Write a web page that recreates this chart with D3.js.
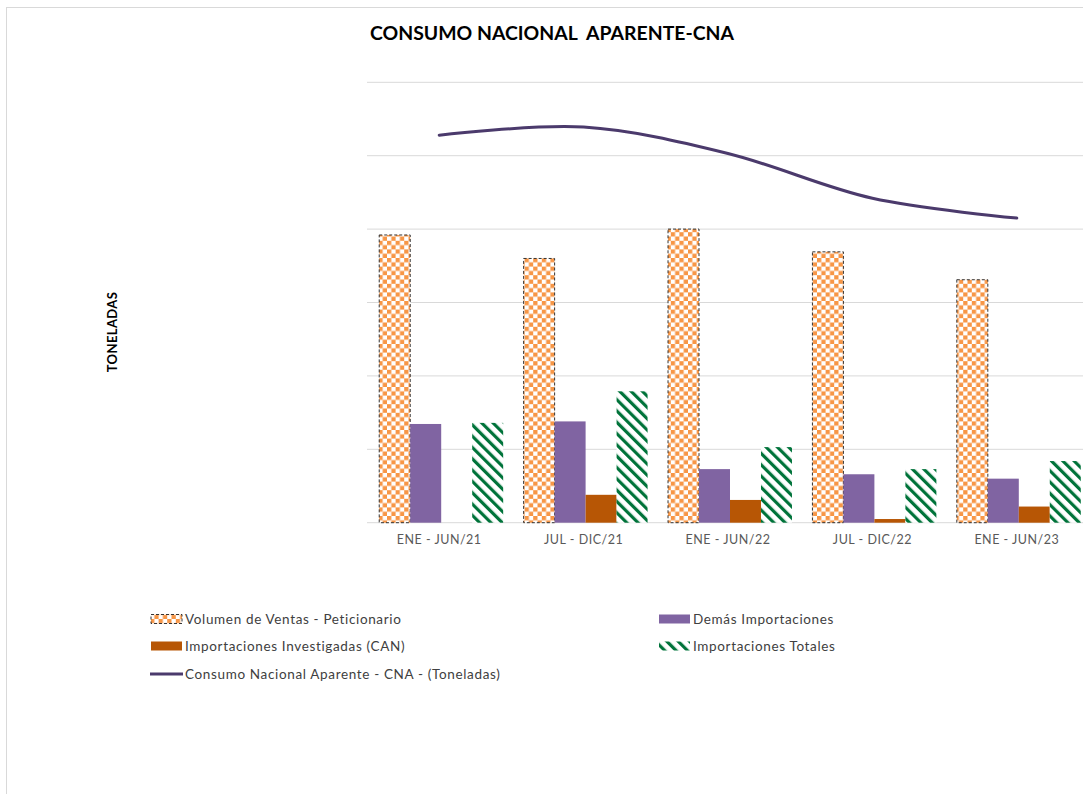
<!DOCTYPE html>
<html>
<head>
<meta charset="utf-8">
<script src="https://cdn.jsdelivr.net/npm/d3@7"></script>
<style>
  body { margin: 0; background: #fff; }
  svg { display: block; font-family: Lato, 'Open Sans', sans-serif; }
</style>
</head>
<body>
<svg id="chart" width="1083" height="794"></svg>
<script>
// periods on the x axis
const periods = ['ENE - JUN/21', 'JUL - DIC/21', 'ENE - JUN/22', 'JUL - DIC/22', 'ENE - JUN/23'];
// toneladas (no y labels in the original)
const ventasPeticionario = [3920, 3600, 4000, 3690, 3310];
const demasImportaciones = [1345, 1380, 730, 660, 600];
const importInvestigadas = [0, 380, 310, 50, 220];
const importTotales = [1360, 1790, 1030, 730, 840];
const cna = [5280, 5390, 5030, 4420, 4150];
const yTicks = [0, 1000, 2000, 3000, 4000, 5000, 6000];

const barSeries = [
  {key: 'vol', name: 'Volumen de Ventas - Peticionario', values: ventasPeticionario, fill: 'url(#checker)'},
  {key: 'dem', name: 'Demás Importaciones', values: demasImportaciones, fill: '#8064A2'},
  {key: 'inv', name: 'Importaciones Investigadas (CAN)', values: importInvestigadas, fill: '#B75605'},
  {key: 'tot', name: 'Importaciones Totales', values: importTotales, fill: 'url(#stripes)'}
];

const svg = d3.select('#chart');
const plot = {left: 367, right: 1089, top: 82.3, bottom: 522.7};

// patterns
const defs = svg.append('defs');
const checker = defs.append('pattern').attr('id', 'checker')
    .attr('patternUnits', 'userSpaceOnUse').attr('width', 8.6).attr('height', 8.6);
checker.append('rect').attr('width', 8.6).attr('height', 8.6).attr('fill', '#fff');
checker.append('rect').attr('width', 4.3).attr('height', 4.3).attr('fill', '#F79646');
checker.append('rect').attr('x', 4.3).attr('y', 4.3).attr('width', 4.3).attr('height', 4.3).attr('fill', '#F79646');

const stripes = defs.append('pattern').attr('id', 'stripes')
    .attr('patternUnits', 'userSpaceOnUse').attr('width', 8).attr('height', 8)
    .attr('patternTransform', 'rotate(-45)');
stripes.append('rect').attr('width', 8).attr('height', 8).attr('fill', '#fff');
stripes.append('rect').attr('width', 3.2).attr('height', 8).attr('fill', '#00733A');

// outer chart border (only top and left show)
svg.append('line').attr('x1', 6.5).attr('y1', 7).attr('x2', 6.5).attr('y2', 794)
    .attr('stroke', '#d9d9d9');
svg.append('line').attr('x1', 6.5).attr('y1', 7.5).attr('x2', 1083).attr('y2', 7.5)
    .attr('stroke', '#d9d9d9');

svg.append('text').attr('x', 370).attr('y', 40)
    .attr('font-size', 19).attr('font-weight', 'bold').attr('fill', '#000')
    .attr('textLength', 364).attr('lengthAdjust', 'spacingAndGlyphs')
    .text('CONSUMO NACIONAL  APARENTE-CNA')
    .style('white-space', 'pre');

svg.append('text')
    .attr('transform', 'translate(117,332) rotate(-90)')
    .attr('text-anchor', 'middle')
    .attr('font-size', 13).attr('font-weight', 'bold')
    .attr('letter-spacing', 0.4)
    .text('TONELADAS');

const x = d3.scaleBand().domain(periods).range([plot.left, plot.right]).paddingInner(0).paddingOuter(0);
const xInner = d3.scaleBand().domain(barSeries.map(d => d.key))
    .range([2, x.bandwidth() + 2]).paddingOuter(0.33).paddingInner(0);
const y = d3.scaleLinear().domain([0, 6000]).range([plot.bottom, plot.top]);

// gridlines
svg.append('g').attr('class', 'grid')
    .selectAll('line').data(yTicks).join('line')
    .attr('x1', plot.left).attr('x2', 1083)
    .attr('y1', d => y(d)).attr('y2', d => y(d))
    .attr('stroke', '#d9d9d9').attr('stroke-width', 1);

// bars
const groups = svg.append('g').selectAll('g').data(barSeries).join('g');
groups.selectAll('rect')
    .data(s => s.values.map((v, i) => ({s, v, p: periods[i]})))
    .join('rect')
    .attr('x', d => x(d.p) + xInner(d.s.key))
    .attr('y', d => y(d.v))
    .attr('width', xInner.bandwidth())
    .attr('height', d => y(0) - y(d.v))
    .attr('fill', d => d.s.fill)
    .attr('stroke', d => d.s.key === 'vol' ? '#333' : 'none')
    .attr('stroke-dasharray', d => d.s.key === 'vol' ? '3,2' : null)
    .attr('stroke-width', 1);

// CNA line, smoothed like excel
const line = d3.line()
    .x((d, i) => x(periods[i]) + x.bandwidth() / 2)
    .y(d => y(d))
    .curve(d3.curveCatmullRom.alpha(0.5));
svg.append('path').datum(cna)
    .attr('d', line)
    .attr('fill', 'none')
    .attr('stroke', '#4B3A6C')
    .attr('stroke-width', 3)
    .attr('stroke-linecap', 'round');

// x axis labels
const xAxis = d3.axisBottom(x).tickSize(0).tickPadding(0);
const gx = svg.append('g').attr('transform', `translate(0, ${plot.bottom + 12})`).call(xAxis);
gx.select('.domain').remove();
gx.selectAll('text')
    .attr('font-family', 'Lato, sans-serif')
    .attr('font-size', 12.5)
    .attr('letter-spacing', 0.5)
    .attr('fill', '#595959')
    .attr('dy', '0.71em');

// legend
const legendItems = [
  {x: 150, y: 619, type: 'vol', name: barSeries[0].name},
  {x: 658, y: 619, type: 'dem', name: barSeries[1].name},
  {x: 150, y: 646, type: 'inv', name: barSeries[2].name},
  {x: 658, y: 646, type: 'tot', name: barSeries[3].name},
  {x: 150, y: 674, type: 'cna', name: 'Consumo Nacional Aparente - CNA - (Toneladas)'}
];
const fills = {vol: 'url(#checker)', dem: '#8064A2', inv: '#B75605', tot: 'url(#stripes)'};
const legend = svg.append('g').attr('class', 'legend');
legendItems.forEach(d => {
  const g = legend.append('g').attr('transform', `translate(${d.x},${d.y})`);
  if (d.type === 'cna') {
    g.append('line').attr('x1', 0).attr('x2', 33).attr('y1', 0).attr('y2', 0)
        .attr('stroke', '#4B3A6C').attr('stroke-width', 3);
  } else {
    g.append('rect').attr('x', 1).attr('y', -4.5).attr('width', 31).attr('height', 9)
        .attr('fill', fills[d.type])
        .attr('stroke', d.type === 'vol' ? '#333' : 'none')
        .attr('stroke-dasharray', d.type === 'vol' ? '3,2' : null);
  }
  g.append('text').attr('x', 35).attr('y', 0).attr('dy', '0.35em')
      .attr('font-size', 13.5).attr('fill', '#404040')
      .attr('letter-spacing', 0.65)
      .text(d.name);
});
</script>
</body>
</html>
